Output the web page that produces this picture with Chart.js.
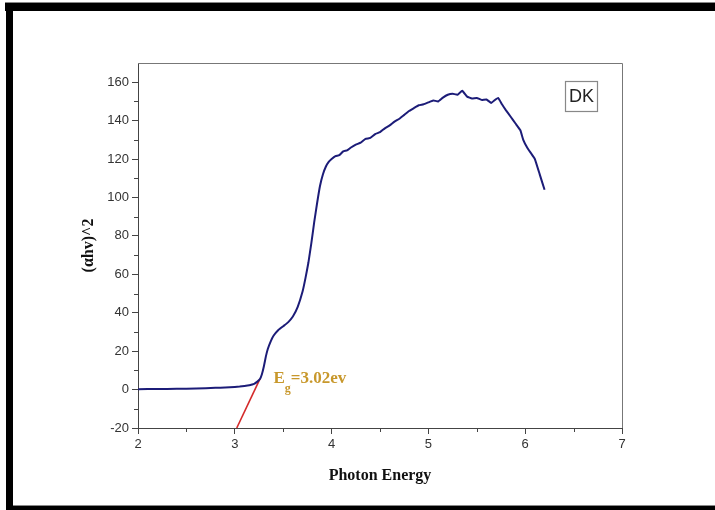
<!DOCTYPE html>
<html>
<head>
<meta charset="utf-8">
<script src="https://cdn.jsdelivr.net/npm/chart.js@4.4.1/dist/chart.umd.min.js"></script>
<style>
  html, body { margin: 0; padding: 0; background: #fff; }
  canvas { display: block; }
</style>
</head>
<body>
<canvas id="tauc" width="715" height="510"></canvas>
<script>
// donnees
const energy = [2.0, 2.2, 2.4, 2.6, 2.8, 2.9, 3.0, 3.05, 3.1, 3.15, 3.2, 3.23, 3.26, 3.28, 3.30, 3.32, 3.34, 3.37, 3.40, 3.45,
    3.50, 3.55, 3.60, 3.65, 3.70, 3.73, 3.76, 3.79, 3.82, 3.85, 3.88, 3.91, 3.94, 3.97, 4.00, 4.04, 4.08, 4.12, 4.16, 4.20,
    4.25, 4.30, 4.35, 4.40, 4.45, 4.50, 4.55, 4.60, 4.65, 4.70, 4.75, 4.80, 4.85, 4.90, 4.95, 5.00, 5.05, 5.10, 5.15, 5.20,
    5.25, 5.30, 5.35, 5.40, 5.45, 5.50, 5.55, 5.60, 5.65, 5.68, 5.72, 5.76, 5.80, 5.85, 5.90, 5.95, 5.98, 6.02, 6.06, 6.10,
    6.15, 6.20];
const alphaHv2 = [0.2, 0.3, 0.4, 0.6, 0.9, 1.1, 1.4, 1.6, 1.9, 2.3, 3.0, 4.0, 5.5, 8, 12, 17, 21, 25, 28, 31,
    33, 35, 38, 43, 51, 58, 66, 76, 87, 97, 106, 112, 116, 118.5, 120, 121.5, 122, 124, 124.5, 126,
    127.5, 128.5, 130.5, 131, 133, 134, 136, 137.5, 139.5, 141, 143, 145, 146.5, 148, 148.5, 149.5, 150.5, 150, 152, 153.5,
    154, 153.5, 155.5, 152.5, 151.5, 151.8, 150.8, 151, 149.2, 150.5, 151.8, 148.5, 145.5, 142, 138.5, 135, 130, 126, 123, 120,
    112, 104];

// tangente (extrapolation du gap)
const tangentX = [3.02, 3.26];
const tangentY = [-20, 5.6];

const xTicks = [2, 3, 4, 5, 6, 7];
const yTicks = [-20, 0, 20, 40, 60, 80, 100, 120, 140, 160];

const plotLeft = 138, plotRight = 622, plotTop = 63;

function toPoints(xs, ys) {
    return xs.map((x, i) => ({ x: x, y: ys[i] }));
}

// cadre noir, bord du graphe, petites graduations, etiquettes
const decor = {
    id: 'decor',
    beforeDraw(chart) {
        const ctx = chart.ctx;
        ctx.save();
        ctx.fillStyle = '#fff';
        ctx.fillRect(0, 0, chart.width, chart.height);
        ctx.fillStyle = '#000';
        ctx.fillRect(5, 3, 710, 8);
        ctx.fillRect(6, 3, 7, 507);
        ctx.fillRect(6, 506, 709, 4);
        ctx.fillStyle = '#888';
        ctx.fillRect(5, 2, 710, 1);
        ctx.fillRect(13, 505, 702, 1);
        ctx.restore();
    },
    afterDraw(chart) {
        const ctx = chart.ctx;
        const a = chart.chartArea;
        const xs = chart.scales.x, ys = chart.scales.y;
        ctx.save();
        // haut et droite
        ctx.strokeStyle = '#777';
        ctx.lineWidth = 1;
        ctx.beginPath();
        ctx.moveTo(a.left, a.top + 0.5);
        ctx.lineTo(a.right + 0.5, a.top + 0.5);
        ctx.lineTo(a.right + 0.5, a.bottom);
        ctx.stroke();

        // graduations mineures
        ctx.strokeStyle = '#444';
        ctx.beginPath();
        for (let v = 2.5; v < 7; v += 1) {
            const px = Math.round(xs.getPixelForValue(v)) + 0.5;
            ctx.moveTo(px, a.bottom);
            ctx.lineTo(px, a.bottom + 4);
        }
        for (let v = -10; v < 170; v += 20) {
            const py = Math.round(ys.getPixelForValue(v)) + 0.5;
            ctx.moveTo(a.left, py);
            ctx.lineTo(a.left - 4, py);
        }
        ctx.stroke();

        // boite DK
        const bx = xs.getPixelForValue(6.41), by = ys.getPixelForValue(160.5);
        const bw = 32, bh = 30;
        ctx.strokeStyle = '#888';
        ctx.lineWidth = 1.2;
        ctx.strokeRect(Math.round(bx) + 0.5, Math.round(by) + 0.5, bw, bh);
        ctx.fillStyle = '#222';
        ctx.font = '18px "Liberation Sans", Arial, sans-serif';
        ctx.textAlign = 'center';
        ctx.textBaseline = 'middle';
        ctx.fillText('DK', bx + bw / 2 + 0.5, by + bh / 2 + 1);

        // Eg
        const ex = xs.getPixelForValue(3.4), ey = ys.getPixelForValue(5.5);
        ctx.fillStyle = '#c8982c';
        ctx.textAlign = 'left';
        ctx.textBaseline = 'middle';
        ctx.font = 'bold 17px "Liberation Serif", "Times New Roman", serif';
        ctx.fillText('E', ex, ey);
        const ew = ctx.measureText('E').width;
        ctx.font = 'bold 12px "Liberation Serif", "Times New Roman", serif';
        ctx.fillText('g', ex + ew, ey + 10);
        const gw = ctx.measureText('g').width;
        ctx.font = 'bold 17px "Liberation Serif", "Times New Roman", serif';
        ctx.fillText('=3.02ev', ex + ew + gw, ey);
        ctx.restore();
    }
};

const ctx = document.getElementById('tauc');
const tauc = new Chart(ctx, {
    type: 'scatter',
    data: {
        datasets: [{
            data: toPoints(energy, alphaHv2),
            showLine: true,
            borderColor: '#1c1c78',
            borderWidth: 2,
            pointRadius: 0,
            tension: 0.1
        }, {
            data: toPoints(tangentX, tangentY),
            showLine: true,
            borderColor: '#d42a2a',
            borderWidth: 1.6,
            pointRadius: 0
        }]
    },
    options: {
        responsive: false,
        animation: false,
        devicePixelRatio: 1,
        layout: {
            padding: { left: 77, right: 715 - plotRight, top: plotTop, bottom: 22 }
        },
        plugins: {
            legend: { display: false },
            tooltip: { enabled: false }
        },
        scales: {
            x: {
                type: 'linear',
                min: 2,
                max: 7,
                afterFit: (s) => { s.height = 60; },
                afterBuildTicks: (s) => { s.ticks = xTicks.map(v => ({ value: v })); },
                ticks: {
                    color: '#333',
                    padding: 3,
                    font: { family: '"Liberation Sans", Arial, sans-serif', size: 13 }
                },
                grid: { drawOnChartArea: false, drawTicks: true, tickLength: 6, color: '#444' },
                border: { display: true, color: '#444', width: 1 },
                title: {
                    display: true,
                    text: 'Photon Energy',
                    color: '#111',
                    padding: { top: 0, bottom: 3 },
                    font: { family: '"Liberation Serif", "Times New Roman", serif', size: 16, weight: 'bold' }
                }
            },
            y: {
                type: 'linear',
                min: -20,
                max: 170,
                afterFit: (s) => { s.width = plotLeft - 77; },
                afterBuildTicks: (s) => { s.ticks = yTicks.map(v => ({ value: v })); },
                ticks: {
                    color: '#333',
                    padding: 3,
                    font: { family: '"Liberation Sans", Arial, sans-serif', size: 13 }
                },
                grid: { drawOnChartArea: false, drawTicks: true, tickLength: 6, color: '#444' },
                border: { display: true, color: '#444', width: 1 },
                title: {
                    display: true,
                    text: '(\u03b1hv)^2',
                    color: '#111',
                    padding: { top: 2, bottom: 0 },
                    font: { family: '"Liberation Serif", "Times New Roman", serif', size: 16, weight: 'bold' }
                }
            }
        }
    },
    plugins: [decor]
});
</script>
</body>
</html>
